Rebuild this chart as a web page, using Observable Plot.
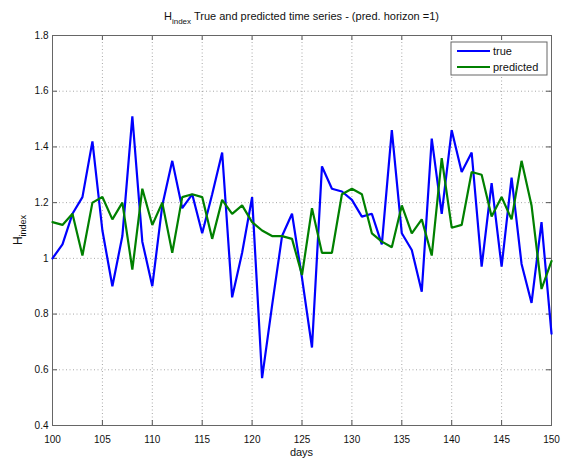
<!DOCTYPE html>
<html>
<head>
<meta charset="utf-8">
<script src="https://cdn.jsdelivr.net/npm/d3@7"></script>
<script src="https://cdn.jsdelivr.net/npm/@observablehq/plot@0.6"></script>
<style>
  html, body { margin: 0; padding: 0; background: #fff; }
  #chart { width: 561px; height: 459px; }
</style>
</head>
<body>
<div id="chart"></div>
<script>
const days = [100,101,102,103,104,105,106,107,108,109,110,111,112,113,114,115,116,117,118,119,120,121,122,123,124,125,126,127,128,129,130,131,132,133,134,135,136,137,138,139,140,141,142,143,144,145,146,147,148,149,150];
const trueVals = [1.00,1.05,1.16,1.22,1.42,1.10,0.90,1.08,1.51,1.06,0.90,1.19,1.35,1.18,1.23,1.09,1.23,1.38,0.86,1.02,1.22,0.57,0.83,1.08,1.16,0.93,0.68,1.33,1.25,1.24,1.21,1.15,1.16,1.05,1.46,1.09,1.03,0.88,1.43,1.16,1.46,1.31,1.38,0.97,1.27,0.97,1.29,0.98,0.84,1.13,0.73];
const predVals = [1.13,1.12,1.16,1.01,1.20,1.22,1.14,1.20,0.96,1.25,1.12,1.20,1.02,1.22,1.23,1.22,1.07,1.21,1.16,1.19,1.13,1.10,1.08,1.08,1.07,0.94,1.18,1.02,1.02,1.23,1.25,1.23,1.09,1.06,1.04,1.19,1.09,1.14,1.01,1.36,1.11,1.12,1.31,1.30,1.15,1.22,1.14,1.35,1.19,0.89,0.99];
const xTicks = [100,105,110,115,120,125,130,135,140,145,150];
const yTicks = [0.4,0.6,0.8,1.0,1.2,1.4,1.6,1.8];
const seriesNames = ["true", "predicted"];
const seriesColors = ["#0000ff", "#008000"];

const rows = [];
days.forEach((d, i) => {
  rows.push({day: d, value: trueVals[i], series: seriesNames[0]});
});
days.forEach((d, i) => {
  rows.push({day: d, value: predVals[i], series: seriesNames[1]});
});

const W = 561, H = 459;
const mL = 52, mR = 10, mT = 35, mB = 34;
const innerH = H - mT - mB, innerW = W - mL - mR;
const tickLen = 5;
const fmtY = d => String(+d.toFixed(1));

const plot = Plot.plot({
  width: W, height: H,
  marginLeft: mL, marginRight: mR, marginTop: mT, marginBottom: mB,
  style: {fontFamily: "'Liberation Sans', Arial, sans-serif", fontSize: "10px", color: "#000", background: "#fff"},
  x: {domain: [100, 150], ticks: xTicks, label: null},
  y: {domain: [0.4, 1.8], ticks: yTicks, label: null, tickFormat: fmtY},
  color: {domain: seriesNames, range: seriesColors},
  marks: [
    Plot.gridX(xTicks, {stroke: "#000", strokeOpacity: 0.35, strokeDasharray: "1,2.5"}),
    Plot.gridY(yTicks, {stroke: "#000", strokeOpacity: 0.35, strokeDasharray: "1,2.5"}),
    Plot.ruleX(xTicks, {x: d => d, insetTop: innerH - tickLen, stroke: "#555"}),
    Plot.ruleX(xTicks, {x: d => d, insetBottom: innerH - tickLen, stroke: "#555"}),
    Plot.ruleY(yTicks, {y: d => d, insetRight: innerW - tickLen, stroke: "#555"}),
    Plot.ruleY(yTicks, {y: d => d, insetLeft: innerW - tickLen, stroke: "#555"}),
    Plot.frame({stroke: "#666"}),
    Plot.axisX(xTicks, {tickSize: 0, tickPadding: 10, label: null, fill: "#111"}),
    Plot.axisY(yTicks, {tickSize: 0, tickPadding: 4, label: null, tickFormat: fmtY, fill: "#111"}),
    Plot.line(rows, {x: "day", y: "value", z: "series", stroke: "series", strokeWidth: 2.2, strokeLinejoin: "miter"})
  ]
});

document.getElementById("chart").appendChild(plot);

const svg = d3.select(plot);
const font = "'Liberation Sans', Arial, sans-serif";

// Title
const title = svg.append("text")
  .attr("x", mL + innerW / 2).attr("y", 20)
  .attr("text-anchor", "middle")
  .attr("font-family", font).attr("font-size", 11).attr("fill", "#111");
title.append("tspan").text("H");
title.append("tspan").attr("font-size", 8).attr("dy", 4).text("index");
title.append("tspan").attr("dy", -4).text(" True and predicted time series - (pred. horizon =1)");

// Y label
const ylab = svg.append("text")
  .attr("transform", `translate(22,${mT + innerH / 2}) rotate(-90)`)
  .attr("text-anchor", "middle")
  .attr("font-family", font).attr("font-size", 12).attr("fill", "#111");
ylab.append("tspan").text("H");
ylab.append("tspan").attr("font-size", 9).attr("dy", 4).text("index");

// X label
svg.append("text")
  .attr("x", mL + innerW / 2).attr("y", 456)
  .attr("text-anchor", "middle")
  .attr("font-family", font).attr("font-size", 11).attr("fill", "#111")
  .text("days");

// Legend
const lg = svg.append("g").attr("font-family", font).attr("font-size", 11).attr("text-anchor", "start");
lg.append("rect").attr("x", 451).attr("y", 42).attr("width", 96).attr("height", 33)
  .attr("fill", "#fff").attr("stroke", "#666");
seriesNames.forEach((name, i) => {
  const yy = 51 + i * 16;
  lg.append("line").attr("x1", 457).attr("x2", 490).attr("y1", yy).attr("y2", yy)
    .attr("stroke", seriesColors[i]).attr("stroke-width", 2);
  lg.append("text").attr("x", 493).attr("y", yy + 4).attr("text-anchor", "start").attr("fill", "#111").text(name);
});
</script>
</body>
</html>
